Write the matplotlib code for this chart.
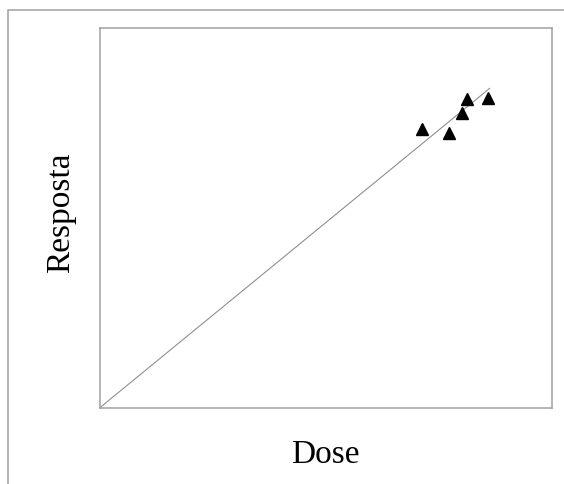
import matplotlib
matplotlib.use("Agg")
import matplotlib.pyplot as plt
from matplotlib.patches import Rectangle

# pontos experimentais (dose x resposta)
dose = [71.2, 77.3, 80.1, 81.2, 85.9]
resposta = [73.3, 72.3, 77.6, 81.2, 81.7]

# reta de referência
reta_x = [0, 86.2]
reta_y = [0, 84.1]

plt.rcParams['font.family'] = ['Liberation Serif', 'DejaVu Serif']

fig = plt.figure(figsize=(5.64, 4.84), dpi=100)

# moldura externa
fig.add_artist(Rectangle((8.3 / 564, -0.1), 1.2, 1.1 - 9.5 / 484,
                         transform=fig.transFigure, fill=False,
                         edgecolor='#a0a0a0', lw=1.1))

ax = fig.add_axes([99.5 / 564, 1 - 408 / 484, 452.5 / 564, 380 / 484])

ax.plot(reta_x, reta_y, color='#8f8f8f', lw=0.8)
ax.plot(dose, resposta, '^', color='black', ms=8.5, mec='black')

ax.set_xlim(0, 100)
ax.set_ylim(0, 100)
ax.set_xticks([])
ax.set_yticks([])

for s in ax.spines.values():
    s.set_color('#a0a0a0')
    s.set_linewidth(1.1)

ax.set_xlabel('Dose', fontsize=24, labelpad=23)
ax.set_ylabel('Resposta', fontsize=24)
ax.yaxis.set_label_coords(-0.052, 0.515)

plt.savefig("out.png", dpi=100)
